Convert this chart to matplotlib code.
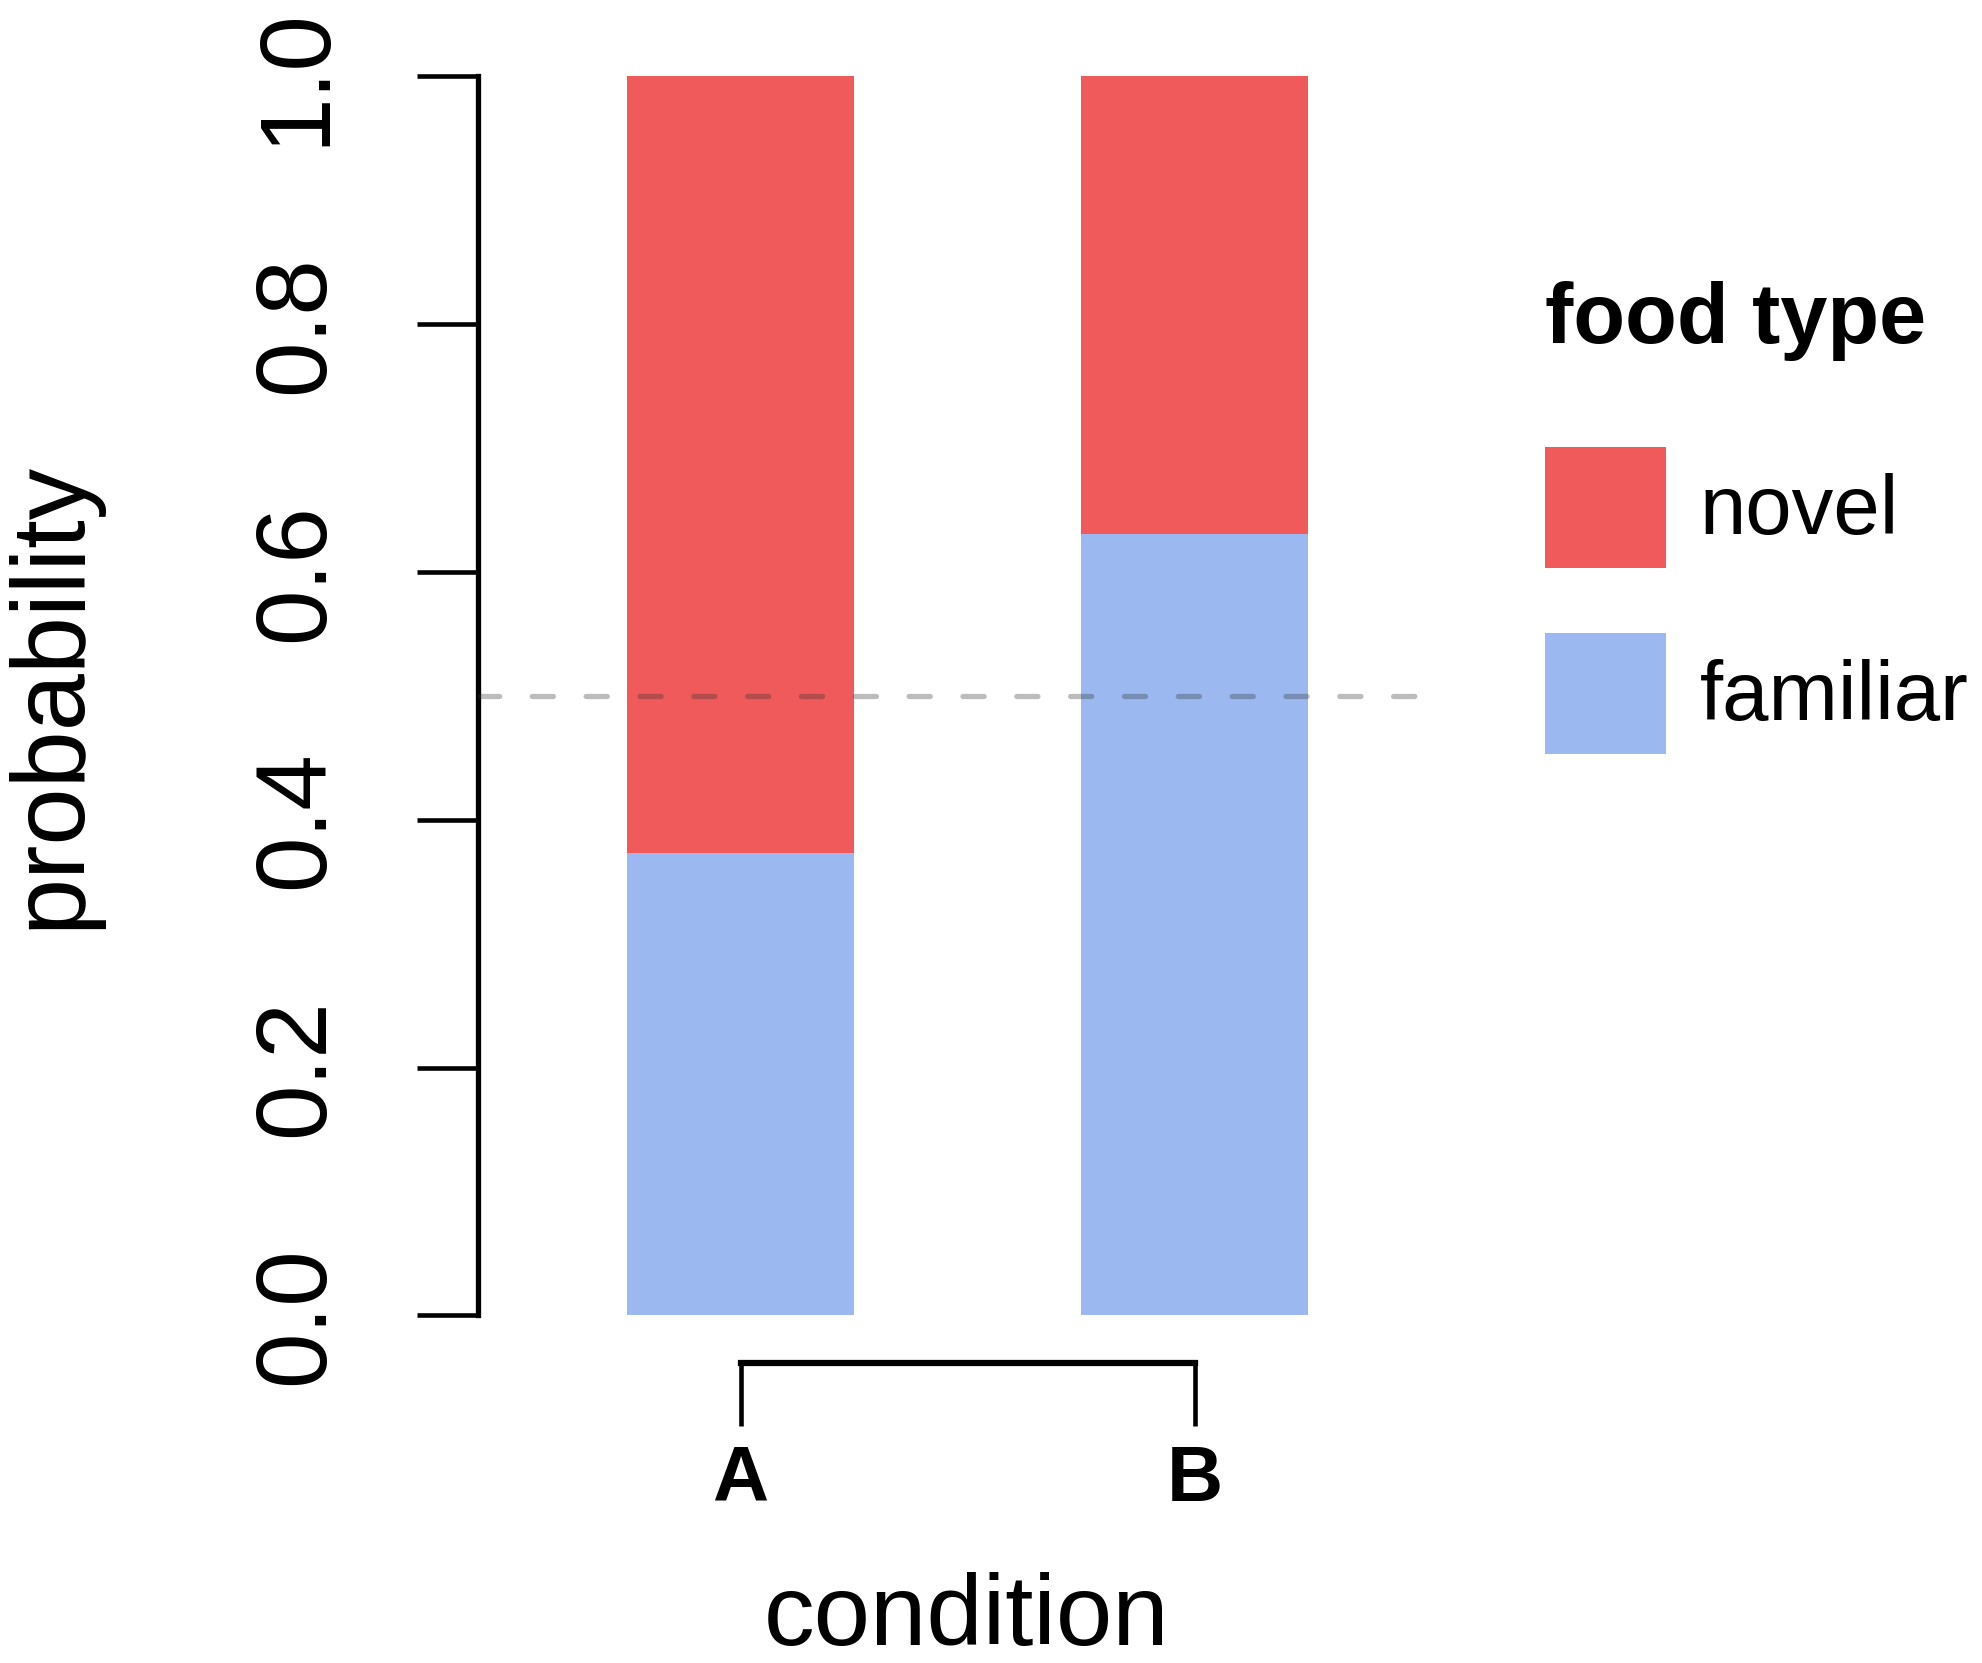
import numpy as np
import matplotlib
matplotlib.use("Agg")
from matplotlib import pyplot as plt
from matplotlib.patches import Patch

plt.rcParams['font.family'] = ['Liberation Sans', 'DejaVu Sans']

# data
conditions = ["A", "B"]
familiar = [0.373, 0.631]
novel = [1 - v for v in familiar]
series_names = ["novel", "familiar"]
colours = {"novel": "#F05A5B", "familiar": "#9BB9F0"}
y_ticks = [0.0, 0.2, 0.4, 0.6, 0.8, 1.0]
chance = 0.5

fig = plt.figure(figsize=(19.83, 16.63), dpi=100)
ax = fig.add_axes([0.241, 0.209, 0.48, 0.745])

x = np.arange(len(conditions))
ax.bar(x, familiar, width=0.5, color=colours["familiar"], zorder=1)
ax.bar(x, novel, width=0.5, bottom=familiar, color=colours["novel"], zorder=1)

# chance line, semi transparent so it darkens the bars
ax.axhline(chance, color="#303030", alpha=0.32, lw=3.8, dashes=(4, 6.2),
           dash_capstyle="round", zorder=3)

ax.set_xlim(-0.578, 1.517)
ax.set_ylim(0, 1)

# R-like axes
for s in ["top", "right"]:
    ax.spines[s].set_visible(False)
ax.spines["left"].set_linewidth(3.8)
ax.spines["left"].set_bounds(0, 1)
ax.spines["left"].set_capstyle("projecting")
ax.spines["bottom"].set_position(("outward", 34.5))
ax.spines["bottom"].set_bounds(0, 1)
ax.spines["bottom"].set_linewidth(4.5)

ax.set_yticks(y_ticks)
ax.set_yticklabels([f"{v:.1f}" for v in y_ticks], rotation=90, va="center")
ax.tick_params(axis="y", length=44, width=3.3, labelsize=72, pad=52)
ax.set_xticks(x)
ax.set_xticklabels(conditions, fontweight="bold")
ax.tick_params(axis="x", length=45, width=3.3, labelsize=56, pad=13)

ax.set_ylabel("probability", fontsize=74)
ax.set_xlabel("condition", fontsize=73)
ax.yaxis.set_label_coords(52 / 1983, (1663 - 695) / 1663, transform=fig.transFigure)
ax.xaxis.set_label_coords(967 / 1983, 44 / 1663, transform=fig.transFigure)
ax.xaxis.label.set_va("center")
ax.yaxis.label.set_va("center")

# legend: title as separate text, entries below
fig.text(0.779, 1 - 343 / 1663, "food type", fontsize=61, fontweight="bold",
         ha="left", va="baseline")
handles = [Patch(facecolor=colours[n], edgecolor="none") for n in series_names]
fig.legend(handles, series_names, loc="upper left",
           bbox_to_anchor=(0.779, 1 - 447 / 1663), frameon=False,
           fontsize=60, handlelength=1.45, handleheight=1.854,
           labelspacing=0.78, handletextpad=0.41, borderpad=0,
           borderaxespad=0)

fig.savefig("out.png", dpi=100)
